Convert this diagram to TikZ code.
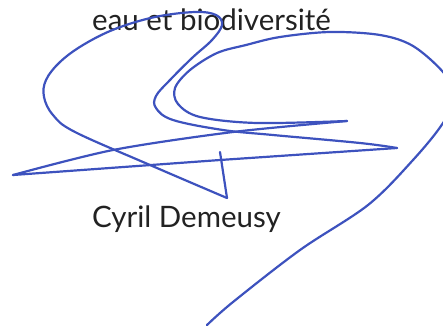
\documentclass[tikz,border=0pt]{standalone}
\usepackage{fontspec}
\setmainfont{Lato}
\definecolor{inkblue}{HTML}{3D52BE}
\definecolor{printgray}{HTML}{222222}

\begin{document}
\begin{tikzpicture}[x=1pt,y=-1pt,
	ink/.style={draw=inkblue,line width=2.2pt,line cap=round,line join=round},
	print/.style={text=printgray,font=\fontsize{29.5}{34}\selectfont,anchor=base west,inner sep=0pt}]
		\useasboundingbox (0,0) rectangle (443,327);
		\clip (0,0) rectangle (443,327);
		\node[print] (service) at (92,30) {eau et biodiversité};
		\node[print] (name) at (92,227) {Cyril Demeusy};
		% left loop and zigzag
		\draw[ink] (220,152) -- (227,198);
		\draw[ink] plot[smooth,tension=0.6] coordinates {(227,198) (150,165) (75,132) (53,115) (44,97) (46,80) (60,62) (83,45) (115,29) (155,17) (195,12) (216,15) (222,25) (212,40) (192,58) (170,80) (156,96) (156,108) (173,120) (223,130) (273,135) (360,143) (397,148)};
		\draw[ink] (397,148) -- (220,160) -- (13,175);
		\draw[ink] plot[smooth] coordinates {(13,175) (113,150) (233,132) (347,121)};
		% right loop and tail
		\draw[ink] plot[smooth,tension=0.55] coordinates {(207,325) (233,302) (300,250) (368,205) (413,160) (443,123) (455,95) (443,72) (413,46) (380,35) (330,32) (280,37) (246,45) (217,53) (190,70) (175,88) (178,104) (200,117) (257,123) (347,121)};
\end{tikzpicture}
\end{document}
